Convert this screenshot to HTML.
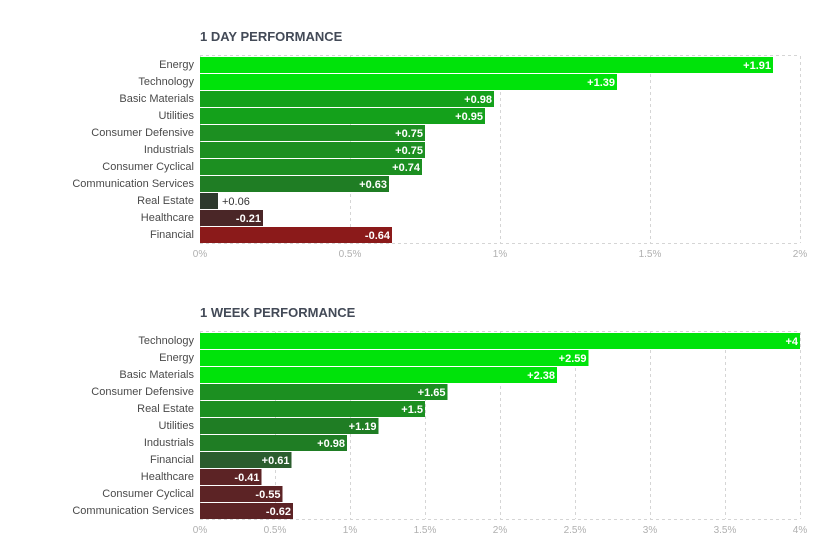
<!DOCTYPE html>
<html><head><meta charset="utf-8"><style>
body{margin:0;background:#fff;font-family:"Liberation Sans",sans-serif;}
svg{display:block}
</style></head><body>
<svg id="c" width="836" height="554"></svg>
<script>
const dayCats=["Energy","Technology","Basic Materials","Utilities","Consumer Defensive","Industrials","Consumer Cyclical","Communication Services","Real Estate","Healthcare","Financial"];
const dayVals=[1.91,1.39,0.98,0.95,0.75,0.75,0.74,0.63,0.06,-0.21,-0.64];
const dayTicks=["0%","0.5%","1%","1.5%","2%"];
const weekCats=["Technology","Energy","Basic Materials","Consumer Defensive","Real Estate","Utilities","Industrials","Financial","Healthcare","Consumer Cyclical","Communication Services"];
const weekVals=[4,2.59,2.38,1.65,1.5,1.19,0.98,0.61,-0.41,-0.55,-0.62];
const weekTicks=["0%","0.5%","1%","1.5%","2%","2.5%","3%","3.5%","4%"];
const NS="http://www.w3.org/2000/svg";
const svg=document.getElementById("c");
function mk(t,a,p){const e=document.createElementNS(NS,t);for(const k in a)e.setAttribute(k,a[k]);(p||svg).appendChild(e);return e;}
function color(v,max){
  if(v<0){return v<=-0.6&&max<3?"#8b1a1a":(v<=-0.3?"#5c2325":"#4a2627");}
  const r=v/max;
  if(r>0.55)return "#00e30a";
  if(r>0.45)return "#14a11b";
  if(r>0.34)return "#1c8f21";
  if(r>0.2)return "#1f7d24";
  if(r>0.1)return "#2b5d2e";
  return "#2e3a2e";
}
function chart(title,name,top,cats,vals,ticks,max){
  const g=mk("g",{});
  
  
  const x0=200,x1=800,rh=17,h=cats.length*rh;
  const sx=v=>x0+(Math.abs(v)/max)*(x1-x0);
  const t=mk("text",{x:200,y:top-15,"font-size":13,"font-weight":"bold",fill:"#434a57"},g);t.textContent=title;
  
  
  // grid
  ticks.forEach((tk,i)=>{
    const x=x0+i*(x1-x0)/(ticks.length-1);
    mk("line",{x1:x+.5,x2:x+.5,y1:top,y2:top+h,stroke:"#d5d5d5","stroke-dasharray":"3,3"},g);
    const tl=mk("text",{x:x,y:top+h+14,"font-size":10,fill:"#b0b0b0","text-anchor":"middle"},g);tl.textContent=tk;
    
    
  });
  mk("line",{x1:x0,x2:x1,y1:top-.5,y2:top-.5,stroke:"#d5d5d5","stroke-dasharray":"3,3"},g);
  mk("line",{x1:x0,x2:x1,y1:top+h+.5,y2:top+h+.5,stroke:"#d5d5d5","stroke-dasharray":"3,3"},g);
  cats.forEach((c,i)=>{
    const y=top+i*rh;
    const l=mk("text",{x:194,y:y+12,"font-size":11,fill:"#4a4a4a","text-anchor":"end"},g);l.textContent=c;
    
    
    const v=vals[i],xe=sx(v);
    const b=mk("rect",{x:x0,y:y+1,width:xe-x0,height:rh-1,fill:color(v,max)},g);
    
    
    const s=(v>0?"+":"")+v;
    const inside=xe-x0>40;
    const vt=mk("text",{x:inside?xe-2:xe+4,y:y+13,"font-size":11,"font-weight":"bold",fill:inside?"#fff":"#333","text-anchor":inside?"end":"start"},g);vt.textContent=s;
    if(!inside)vt.setAttribute("font-weight","normal");
    
    
  });
}
chart("1 DAY PERFORMANCE","day-performance-chart",56,dayCats,dayVals,dayTicks,2);
chart("1 WEEK PERFORMANCE","week-performance-chart",332,weekCats,weekVals,weekTicks,4);
</script>
</body></html>
